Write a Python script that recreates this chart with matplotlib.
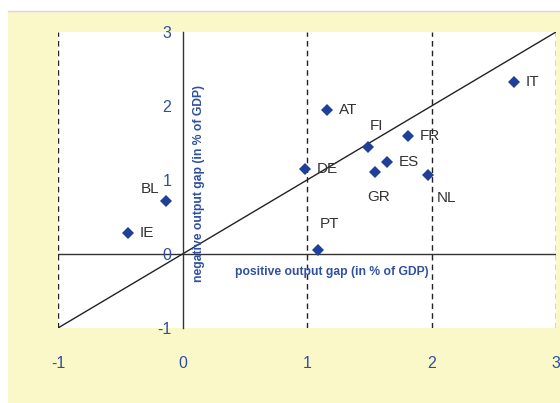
import matplotlib
matplotlib.use("Agg")
import matplotlib.pyplot as plt
from matplotlib.patches import Rectangle
from matplotlib.lines import Line2D

plt.rcParams['font.family'] = ['Liberation Sans', 'DejaVu Sans']

countries = ["IT", "AT", "FI", "FR", "ES", "GR", "NL", "DE", "PT", "IE", "BL"]
pos_gap = [2.66, 1.16, 1.49, 1.81, 1.64, 1.55, 1.97, 0.98, 1.09, -0.44, -0.13]
neg_gap = [2.33, 1.95, 1.44, 1.60, 1.24, 1.11, 1.07, 1.15, 0.05, 0.29, 0.72]
x_ticks = [-1, 0, 1, 2, 3]
y_ticks = [-1, 0, 1, 2, 3]
dashed_x = [-1, 1, 2, 3]
x_title = "positive output gap (in % of GDP)"
y_title = "negative output gap (in % of GDP)"

# label offsets in pixels (dx, dy) and alignments
offsets = {
    "IT": (12, 0, 'left', 'center'),
    "AT": (12, 0, 'left', 'center'),
    "FI": (8, 21, 'center', 'center'),
    "FR": (12, 0, 'left', 'center'),
    "ES": (12, 0, 'left', 'center'),
    "GR": (3, -25, 'center', 'center'),
    "NL": (9, -23, 'left', 'center'),
    "DE": (12, 0, 'left', 'center'),
    "PT": (11, 26, 'center', 'center'),
    "IE": (12, 0, 'left', 'center'),
    "BL": (-7, 12, 'right', 'center'),
}

W, H = 560, 403
fig = plt.figure(figsize=(W / 100, H / 100), dpi=100)
fig.patch.set_facecolor('white')
fig.patches.append(Rectangle((8 / W, 0), 1 - 8 / W, (H - 11) / H,
                             transform=fig.transFigure, facecolor='#FAF7C9',
                             edgecolor='none', zorder=-10))
fig.lines.append(Line2D([8 / W, 1], [(H - 10.5) / H, (H - 10.5) / H],
                        transform=fig.transFigure, color='#D8D8D8', lw=1, zorder=-9))

ax = fig.add_axes([58 / W, (H - 328) / H, 498 / W, 296 / H])
ax.set_facecolor('white')
ax.set_xlim(-1, 3)
ax.set_ylim(-1, 3)

blue = '#2F4FA0'
for s in ['top', 'right', 'bottom']:
    ax.spines[s].set_visible(False)
ax.spines['left'].set_position(('data', 0))
ax.spines['left'].set_color('#333333')
ax.spines['left'].set_linewidth(1)
ax.axhline(0, color='#333333', lw=1, zorder=1)

for xv in dashed_x:
    ax.axvline(xv, color='#222222', lw=1, dashes=(4, 3), zorder=1)

ax.plot([-1, 3], [-1, 3], color='#222222', lw=1, zorder=2)

ax.set_xticks(x_ticks)
ax.set_yticks(y_ticks)
ax.set_xticklabels([str(v) for v in x_ticks])
ax.set_yticklabels([str(v) for v in y_ticks])
ax.tick_params(axis='x', length=0, pad=20, labelsize=11.5, labelcolor=blue)
ax.tick_params(axis='y', length=0, pad=8, labelsize=11.5, labelcolor=blue)

ax.plot(pos_gap, neg_gap, linestyle='none', marker='D', markersize=6,
        color='#1F3F9A', markeredgewidth=0, zorder=3)

for c, xv, yv in zip(countries, pos_gap, neg_gap):
    dx, dy, ha, va = offsets[c]
    ax.annotate(c, (xv, yv), xytext=(dx * 0.72, dy * 0.72), textcoords='offset points',
                ha=ha, va=va, fontsize=11, color='#333333', zorder=4)

ax.text(429 / W, (H - 272) / H, x_title, transform=fig.transFigure, ha='right',
        va='center', fontsize=8.7, fontweight='bold', color=blue)
ax.text(199 / W, (H - 282) / H, y_title, transform=fig.transFigure, ha='center',
        va='bottom', rotation=90, fontsize=8.7, fontweight='bold', color=blue)

fig.savefig('out.png', dpi=100)
